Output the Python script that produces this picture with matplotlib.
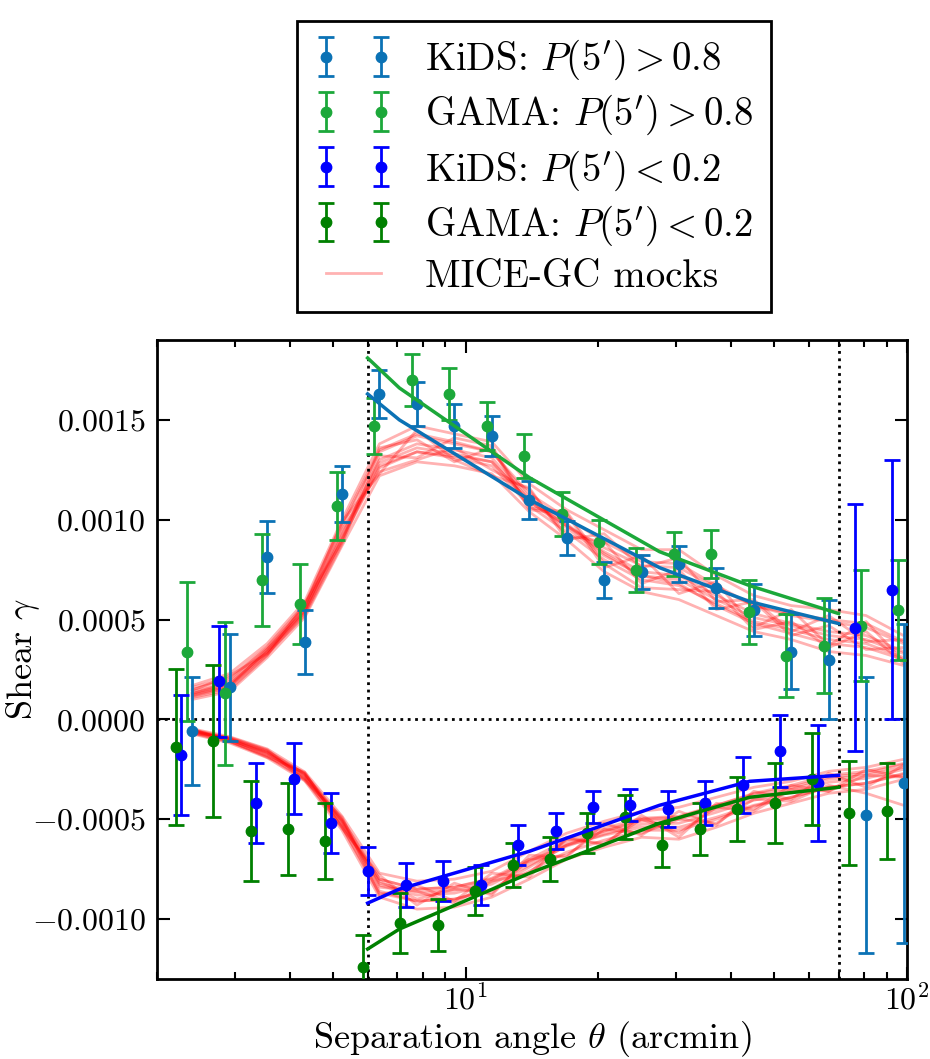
import matplotlib
matplotlib.use("Agg")
import matplotlib.pyplot as plt
from matplotlib.ticker import NullFormatter, MultipleLocator

plt.rcParams.update({
    "font.family": "serif",
    "font.serif": ["cmr10"],
    "mathtext.fontset": "cm",
    "axes.formatter.use_mathtext": True,
    "font.size": 23,
})

# bin centres (arcmin) and values in units of 1e-4
unit = 1e-4
theta = [2.405, 2.923, 3.554, 4.320, 5.251, 6.383, 7.760, 9.433, 11.47, 13.94,
         16.94, 20.60, 25.04, 30.43, 37.00, 44.97, 54.67, 66.46, 80.79, 98.2]

kids_hi = [-0.6, 1.6, 8.13, 3.86, 11.3, 16.3, 15.8, 14.7, 14.2, 11.0,
           9.1, 7.0, 7.4, 7.8, 6.6, 5.5, 3.4, 3.0, -4.8, -3.2]
kids_hi_err = [2.7, 2.7, 1.8, 1.6, 1.4, 1.2, 1.1, 1.1, 1.0, 0.95,
               0.85, 0.9, 0.85, 0.9, 1.0, 1.3, 1.9, 3.0, 6.9, 8.0]
gama_hi = [3.4, 1.3, 7.0, 5.8, 10.7, 14.7, 17.0, 16.3, 14.7, 13.2,
           10.3, 8.9, 7.5, 8.3, 8.3, 5.4, 3.2, 3.7, 4.7, 5.5]
gama_hi_err = [3.5, 3.6, 2.3, 2.0, 1.7, 1.4, 1.3, 1.3, 1.2, 1.1,
               1.1, 1.1, 1.1, 1.1, 1.2, 1.6, 2.1, 2.4, 2.8, 2.5]
kids_lo = [-1.8, 1.9, -4.2, -2.96, -5.2, -7.6, -8.3, -8.1, -8.3, -6.3,
           -5.6, -4.4, -4.3, -4.5, -4.2, -3.3, -1.6, -3.2, 4.6, 6.5]
kids_lo_err = [3.0, 2.8, 2.0, 1.8, 1.5, 1.2, 1.1, 1.0, 1.0, 1.0,
               0.9, 0.8, 0.8, 0.9, 1.1, 1.4, 1.8, 2.9, 6.2, 6.5]
gama_lo = [-1.4, -1.1, -5.6, -5.5, -6.1, -12.4, -10.2, -10.3, -8.6, -7.3,
           -7.0, -5.7, -4.9, -6.3, -5.5, -4.5, -4.2, -3.0, -4.7, -4.6]
gama_lo_err = [3.9, 3.8, 2.5, 2.3, 1.9, 1.6, 1.5, 1.3, 1.2, 1.1,
               1.1, 1.0, 1.1, 1.1, 1.3, 1.6, 2.0, 2.3, 2.6, 2.4]

# model curves (fit range 6'-70')
model_theta = [6.0, 7.08, 13.97, 27.5, 44.0, 70.0]
model_kids_hi = [16.3, 15.0, 11.0, 7.6, 5.9, 4.8]
model_gama_hi = [18.1, 16.6, 12.1, 8.4, 6.7, 5.3]
model_kids_lo = [-9.2, -8.5, -6.6, -4.3, -3.1, -2.8]
model_gama_lo = [-11.5, -10.5, -7.7, -5.2, -3.9, -3.4]

# MICE-GC mock realisations (high and low P)
mocks_hi = [
    [1.0, 1.4, 3.1, 5.1, 8.7, 12.2, 12.9, 12.7, 12.3, 10.4, 9.0, 7.4, 6.4, 6.0, 5.2, 4.4, 4.0, 3.4, 3.2, 2.7],
    [1.7, 2.3, 3.8, 5.9, 10.0, 13.8, 14.7, 14.3, 13.9, 11.8, 10.5, 9.5, 8.5, 8.5, 7.2, 6.2, 5.7, 5.5, 5.2, 4.2],
    [1.4, 1.8, 3.4, 5.5, 9.3, 13.0, 13.8, 13.5, 13.1, 11.0, 9.7, 8.4, 7.4, 7.2, 6.2, 5.3, 4.8, 4.4, 4.2, 3.4],
    [1.15, 1.6, 3.25, 5.3, 9.0, 12.6, 13.4, 13.2, 12.9, 10.9, 9.7, 8.6, 7.7, 7.6, 6.6, 5.7, 5.3, 5.0, 4.8, 3.9],
    [1.6, 2.1, 3.65, 5.75, 9.8, 13.5, 14.3, 13.9, 13.4, 11.1, 9.8, 8.3, 7.2, 6.8, 5.7, 4.8, 4.3, 3.8, 3.6, 3.0],
    [1.2, 1.7, 3.3, 5.35, 9.05, 12.7, 13.4, 13.1, 12.7, 10.7, 9.4, 8.0, 7.0, 6.7, 5.8, 4.9, 4.5, 4.0, 3.8, 3.1],
    [1.5, 2.0, 3.6, 5.65, 9.65, 13.4, 14.2, 13.8, 13.4, 11.3, 10.1, 8.9, 7.9, 7.8, 6.7, 5.7, 5.2, 4.9, 4.6, 3.8],
    [1.3, 1.9, 3.5, 5.4, 9.5, 12.4, 13.0, 13.6, 12.5, 11.5, 9.2, 8.9, 6.8, 7.5, 5.5, 5.9, 4.2, 4.7, 3.5, 3.6],
    [1.1, 1.5, 3.2, 5.8, 8.9, 13.6, 14.0, 12.9, 13.6, 10.5, 10.3, 7.6, 8.2, 6.3, 6.9, 4.6, 5.5, 3.7, 4.9, 2.9],
    [1.3, 1.75, 3.4, 5.45, 9.2, 12.85, 13.6, 13.3, 12.9, 10.9, 9.6, 8.2, 7.2, 7.0, 6.0, 5.1, 4.7, 4.2, 4.0, 3.3],
    [1.25, 1.65, 3.5, 5.6, 9.9, 12.3, 14.5, 13.0, 12.2, 11.6, 9.0, 9.3, 7.6, 8.1, 5.9, 6.0, 4.4, 5.2, 3.9, 4.0],
    [1.45, 2.2, 3.3, 5.2, 8.8, 13.2, 13.1, 14.1, 13.7, 10.6, 10.4, 7.8, 6.6, 6.5, 6.4, 4.5, 4.9, 3.6, 4.4, 2.8],
]
mocks_lo = [
    [-0.47, -0.87, -1.48, -2.63, -4.85, -7.7, -8.1, -8.0, -7.6, -6.6, -5.7, -5.1, -4.6, -4.4, -3.9, -3.4, -3.1, -2.6, -2.4, -2.0],
    [-0.73, -1.18, -1.92, -3.07, -5.55, -8.9, -9.5, -9.4, -8.9, -8.0, -7.0, -6.4, -5.9, -6.0, -5.4, -4.7, -4.2, -3.7, -3.5, -3.0],
    [-0.6, -1.02, -1.7, -2.85, -5.2, -8.3, -8.8, -8.7, -8.25, -7.3, -6.35, -5.75, -5.25, -5.2, -4.65, -4.05, -3.65, -3.15, -2.95, -2.5],
    [-0.51, -0.93, -1.56, -2.72, -5.0, -8.0, -8.5, -8.4, -8.0, -7.1, -6.3, -5.8, -5.4, -5.4, -4.9, -4.3, -3.9, -3.4, -3.2, -2.7],
    [-0.69, -1.13, -1.85, -3.0, -5.4, -8.7, -9.1, -9.0, -8.5, -7.4, -6.3, -5.6, -5.0, -4.9, -4.3, -3.7, -3.3, -2.8, -2.6, -2.2],
    [-0.54, -0.96, -1.6, -2.75, -5.05, -8.0, -8.5, -8.4, -7.95, -7.0, -6.05, -5.45, -4.95, -4.85, -4.3, -3.75, -3.4, -2.9, -2.7, -2.25],
    [-0.66, -1.1, -1.8, -2.95, -5.35, -8.6, -9.1, -9.0, -8.55, -7.6, -6.65, -6.05, -5.55, -5.55, -5.0, -4.35, -3.9, -3.4, -3.2, -2.75],
    [-0.55, -1.05, -1.65, -2.9, -5.1, -8.4, -8.6, -9.2, -8.1, -7.7, -6.0, -6.2, -5.0, -5.7, -4.4, -4.6, -3.5, -3.6, -2.8, -2.9],
    [-0.62, -0.98, -1.75, -2.7, -5.3, -8.1, -9.0, -8.5, -8.7, -7.0, -6.8, -5.5, -5.7, -5.0, -5.2, -4.0, -4.1, -3.3, -3.7, -4.3],
    [-0.57, -0.99, -1.65, -2.8, -5.1, -8.2, -8.65, -8.55, -8.1, -7.15, -6.2, -5.6, -5.1, -5.0, -4.5, -3.9, -3.5, -3.0, -2.8, -2.4],
    [-0.5, -1.08, -1.9, -2.65, -5.45, -7.8, -9.3, -8.2, -8.8, -6.8, -6.9, -5.2, -5.8, -4.6, -5.3, -3.6, -4.0, -2.7, -3.4, -2.3],
    [-0.7, -0.9, -1.52, -3.05, -4.9, -8.8, -8.3, -9.1, -7.7, -7.9, -5.9, -6.3, -4.8, -5.9, -4.2, -4.5, -3.3, -3.6, -2.5, -2.9],
]

c_kids_hi = "#0b72b5"
c_gama_hi = "#1ca83a"
c_kids_lo = "#0000ff"
c_gama_lo = "#008000"


def sc(vals):
    return [v * unit for v in vals]


def shift(vals, f):
    return [v * f for v in vals]


fig = plt.figure(figsize=(9.3, 10.59), dpi=100)
ax = fig.add_axes([157 / 930, 80 / 1059, 750 / 930, 639 / 1059])

# mocks
for i in range(len(mocks_hi)):
    lab = "MICE-GC mocks" if i == 0 else None
    ax.plot(theta, sc(mocks_hi[i]), color="red", alpha=0.3, lw=2, label=lab, zorder=1)
    ax.plot(theta, sc(mocks_lo[i]), color="red", alpha=0.3, lw=2, zorder=1)

eb = dict(fmt="o", ms=7.5, lw=2, capsize=6, capthick=2, zorder=3)
ax.errorbar(theta, sc(kids_hi), yerr=sc(kids_hi_err), color=c_kids_hi,
            label=r"KiDS: $P(5')>0.8$", **eb)
ax.errorbar(shift(theta, 0.974), sc(gama_hi), yerr=sc(gama_hi_err), color=c_gama_hi,
            label=r"GAMA: $P(5')>0.8$", **eb)
ax.errorbar(shift(theta, 0.944), sc(kids_lo), yerr=sc(kids_lo_err), color=c_kids_lo,
            label=r"KiDS: $P(5')<0.2$", **eb)
ax.errorbar(shift(theta, 0.917), sc(gama_lo), yerr=sc(gama_lo_err), color=c_gama_lo,
            label=r"GAMA: $P(5')<0.2$", **eb)

# model fits
ax.plot(model_theta, sc(model_kids_hi), color=c_kids_hi, lw=2.5, zorder=4)
ax.plot(model_theta, sc(model_gama_hi), color=c_gama_hi, lw=2.5, zorder=4)
ax.plot(model_theta, sc(model_kids_lo), color=c_kids_lo, lw=2.5, zorder=4)
ax.plot(model_theta, sc(model_gama_lo), color=c_gama_lo, lw=2.5, zorder=4)

ax.axhline(0, color="k", ls=":", lw=2, zorder=2)
ax.axvline(6, color="k", ls=":", lw=2, zorder=2)
ax.axvline(70, color="k", ls=":", lw=2, zorder=2)

ax.set_xscale("log")
ax.set_xlim(2.0, 100)
ax.set_ylim(-0.0013, 0.0019)
ax.yaxis.set_major_locator(MultipleLocator(0.0005))
ax.xaxis.set_minor_formatter(NullFormatter())
ax.tick_params(which="both", direction="in", top=True, right=True, width=1.5)
ax.tick_params(which="major", length=9)
ax.tick_params(which="minor", length=5)
ax.tick_params(axis="y", pad=8)
ax.tick_params(axis="x", pad=3)
for s in ax.spines.values():
    s.set_linewidth(2)

ax.set_xlabel(r"Separation angle $\theta$ (arcmin)", fontsize=26, labelpad=3)
ax.set_ylabel(r"Shear $\gamma$", fontsize=26)
ax.yaxis.set_label_coords(-0.153, 0.5)

handles, labels = ax.get_legend_handles_labels()
order = [1, 2, 3, 4, 0]
leg = fig.legend([handles[i] for i in order], [labels[i] for i in order],
                 loc="upper center", bbox_to_anchor=(534 / 930, 0.999),
                 numpoints=2, fancybox=False, edgecolor="k", framealpha=1,
                 handlelength=2.0, handletextpad=0.85, borderpad=0.45,
                 labelspacing=0.28, fontsize=28)
leg.get_frame().set_linewidth(2)

fig.savefig("out.png", dpi=100)
